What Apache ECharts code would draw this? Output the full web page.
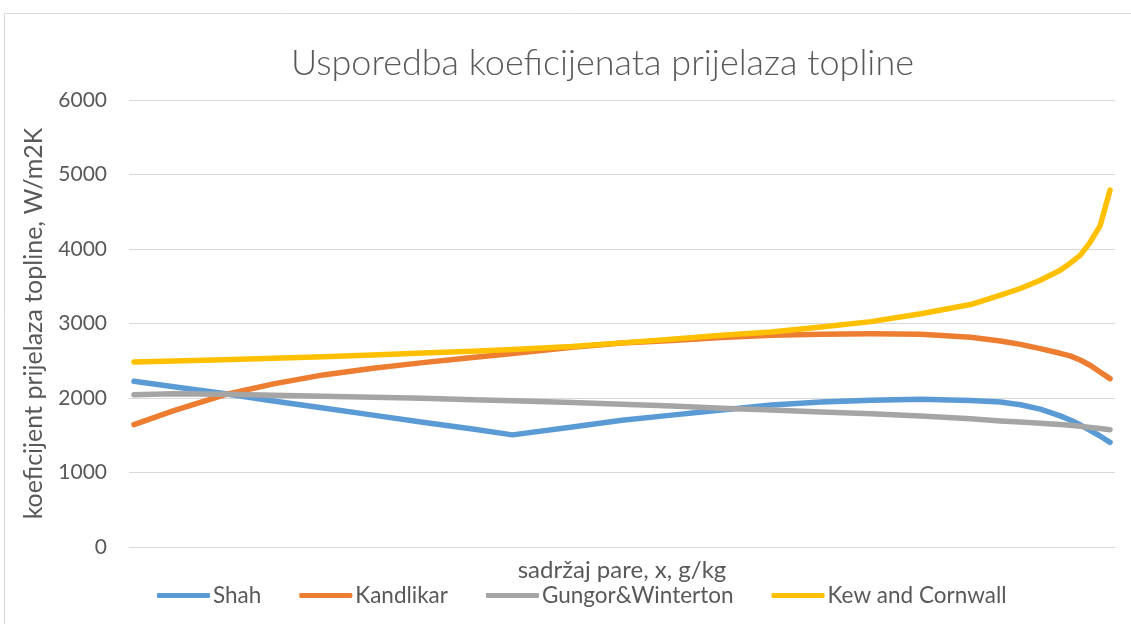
<!DOCTYPE html>
<html>
<head>
<meta charset="utf-8">
<style>
    html, body {
        margin: 0;
        padding: 0;
        background: #fff;
    }
    #chart {
        width: 1131px;
        height: 624px;
    }
</style>
<script src="https://cdn.jsdelivr.net/npm/echarts@6/dist/echarts.min.js"></script>
</head>
<body>
<div id="chart"></div>
<script>
    // sadržaj pare x (osi se ne ispisuju)
    var quality = [0.01, 0.05, 0.10, 0.15, 0.20, 0.25, 0.30, 0.35, 0.39, 0.45, 0.50, 0.55, 0.60, 0.65,
        0.70, 0.75, 0.80, 0.85, 0.88, 0.90, 0.92, 0.94, 0.95, 0.96, 0.97, 0.98, 0.99];
    var shah = [2224, 2150, 2060, 1960, 1865, 1770, 1675, 1585, 1505, 1610, 1700, 1770, 1840, 1905,
        1945, 1970, 1982, 1968, 1945, 1910, 1850, 1760, 1705, 1640, 1565, 1490, 1405];
    var kandlikar = [1643, 1830, 2040, 2190, 2310, 2400, 2475, 2545, 2598, 2680, 2738, 2772, 2811, 2842,
        2855, 2862, 2855, 2815, 2765, 2720, 2663, 2600, 2565, 2510, 2440, 2350, 2260];
    var gungor = [2045, 2058, 2050, 2036, 2025, 2010, 1995, 1978, 1962, 1940, 1915, 1893, 1862, 1838,
        1812, 1790, 1758, 1720, 1692, 1678, 1662, 1645, 1633, 1620, 1605, 1590, 1575];
    var kew = [2483, 2498, 2515, 2533, 2553, 2578, 2603, 2628, 2650, 2690, 2740, 2788, 2842, 2886,
        2953, 3025, 3130, 3255, 3380, 3470, 3580, 3714, 3810, 3915, 4090, 4310, 4790];
    var seriesNames = ['Shah', 'Kandlikar', 'Gungor&Winterton', 'Kew and Cornwall'];
    var yTicks = [0, 1000, 2000, 3000, 4000, 5000, 6000];

    var colors = ['#5b9bd5', '#ed7d31', '#a5a5a5', '#ffc000'];
    var font = 'Lato, "Liberation Sans", sans-serif';

    function pairs(values) {
        return quality.map(function(x, i) {
            return [x, values[i]];
        });
    }

    var myChart = echarts.init(document.getElementById('chart'));
    var series = [shah, kandlikar, gungor, kew].map(function(values, i) {
        return {
            name: seriesNames[i],
            type: 'line',
            data: pairs(values),
            showSymbol: false,
            symbol: 'none',
            lineStyle: {
                color: colors[i],
                width: 5.5,
                cap: 'round',
                join: 'round'
            },
            itemStyle: {
                color: colors[i]
            }
        };
    });

    var option = {
        animation: false,
        color: colors,
        textStyle: {
            fontFamily: font
        },
        graphic: [{
            type: 'rect', //okvir grafikona
            shape: { x: 4.5, y: 13.5, width: 1200, height: 700 },
            style: { fill: 'none', stroke: '#d9d9d9', lineWidth: 1 }
        }],
        title: {
            text: 'Usporedba koeficijenata prijelaza topline',
            left: 286,
            top: 40,
            textStyle: {
                fontFamily: font,
                fontWeight: 300,
                fontSize: 36,
                color: '#595959'
            }
        },
        legend: {
            bottom: 12,
            left: 152,
            itemWidth: 53,
            itemHeight: 5,
            itemGap: 38,
            icon: 'roundRect',
            textStyle: {
                fontFamily: font,
                fontSize: 22.5,
                color: '#595959',
                padding: [0, 0, 0, -2]
            },
            data: seriesNames
        },
        grid: {
            left: 129,
            right: 16,
            top: 100,
            bottom: 77,
            containLabel: false
        },
        xAxis: {
            type: 'value',
            min: 0.005,
            max: 0.995,
            name: 'sadržaj pare, x, g/kg',
            nameLocation: 'middle',
            nameGap: 11,
            nameTextStyle: {
                fontFamily: font,
                fontSize: 24,
                color: '#595959',
                verticalAlign: 'top'
            },
            axisLine: { show: true, lineStyle: { color: '#d9d9d9', width: 1 } },
            axisTick: { show: false },
            axisLabel: { show: false },
            splitLine: { show: false }
        },
        yAxis: {
            type: 'value',
            min: yTicks[0],
            max: yTicks[yTicks.length - 1],
            interval: 1000,
            name: 'koeficijent prijelaza topline, W/m2K',
            nameLocation: 'middle',
            nameGap: 83,
            nameTextStyle: {
                fontFamily: font,
                fontSize: 25,
                color: '#595959'
            },
            axisLine: { show: false },
            axisTick: { show: false },
            axisLabel: {
                margin: 22,
                fontFamily: font,
                fontSize: 21,
                color: '#595959',
                formatter: function(v) {
                    return String(v);
                }
            },
            splitLine: { lineStyle: { color: '#d9d9d9', width: 1 } }
        },
        series: series
    };
    myChart.setOption(option);
</script>
</body>
</html>
